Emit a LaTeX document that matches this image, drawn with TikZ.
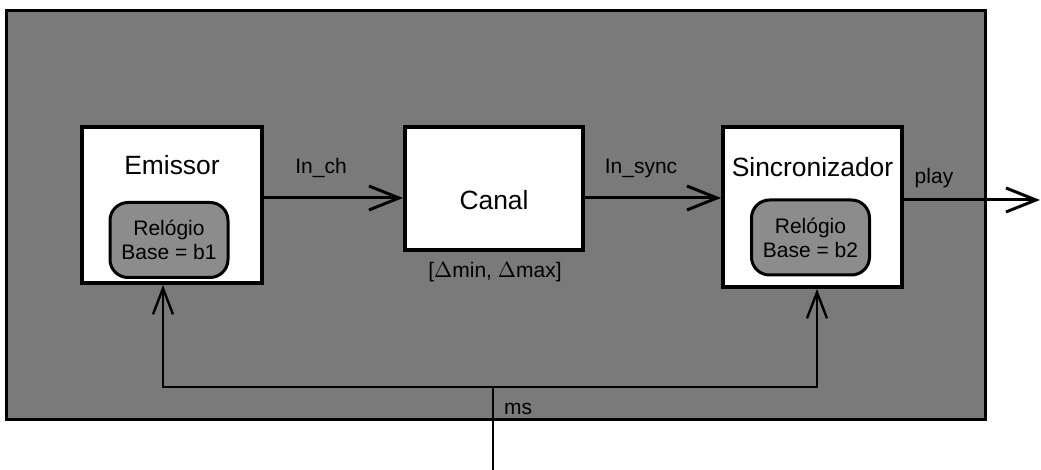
\documentclass[tikz,border=0pt]{standalone}
\usepackage{fontspec}
\setmainfont{Liberation Sans}
\usepackage{tikz}
\usetikzlibrary{arrows.meta,positioning,calc}
\definecolor{stipple}{HTML}{7A7A7A}
\definecolor{stippleL}{HTML}{8C8C8C}

\begin{document}
\begin{tikzpicture}[x=0.5pt, y=-0.5pt,
  blk/.style={draw, line width=2pt, fill=white, inner sep=0pt},
  clk/.style={draw, line width=1.5pt, fill=stippleL, rounded corners=9pt, inner sep=0pt,
    minimum width=59pt, minimum height=37.5pt, align=center, font=\fontsize{10.5}{12}\selectfont},
  ttl/.style={font=\fontsize{13.2}{15}\selectfont},
  lbl/.style={font=\fontsize{10.5}{12}\selectfont},
  flow/.style={line width=1.5pt, -{Straight Barb[length=15pt, width=12pt, line width=1.5pt]}},
  tick/.style={line width=1pt, -{Straight Barb[length=13pt, width=10pt, line width=1.2pt]}}]
\useasboundingbox (0,0) rectangle (1041,470);
% stippled frame
\draw[line width=1.5pt, fill=stipple] (6,11) rectangle (985,420);
% blocks
\node[blk, minimum width=90pt, minimum height=78pt] (emissor) at (172,205) {};
\node[ttl] (emissorT) at (172,165) {Emissor};
\node[clk] (clock1) at (169,240) {Relógio\\Base = b1};
\node[blk, minimum width=89pt, minimum height=61.5pt] (canal) at (494,188.5) {};
\node[ttl] (canalT) at (494,200) {Canal};
\node[blk, minimum width=89.5pt, minimum height=80pt] (sinc) at (812.5,207) {};
\node[ttl] (sincT) at (812.5,167) {Sincronizador};
\node[clk] (clock2) at (810.5,237.5) {Relógio\\Base = b2};
% flows
\coordinate (playout) at (1040,200);
\draw[flow] (emissor.east |- 0,198) -- (canal.west |- 0,198);
\draw[flow] (canal.east |- 0,198) -- (sinc.west |- 0,198);
\draw[flow] (sinc.east |- 0,200) -- (playout);
\node[lbl] (inch) at (321,168) {In\_ch};
\node[lbl] (insync) at (641,168) {In\_sync};
\node[lbl] (play) at (934,178) {play};
\node[lbl] (delta) at (495,272) {[$\Delta$min, $\Delta$max]};
% clock ticks
\coordinate (src) at (493,470);
\coordinate (tap) at (493,387);
\node[lbl, anchor=west] (ms) at (497,409) {ms};
\draw[line width=1pt] (src) -- (tap);
\draw[tick] (tap) -| ([xshift=-4.5pt]emissor.south);
\draw[tick] (tap) -| ([xshift=2.25pt]sinc.south);
\end{tikzpicture}
\end{document}
